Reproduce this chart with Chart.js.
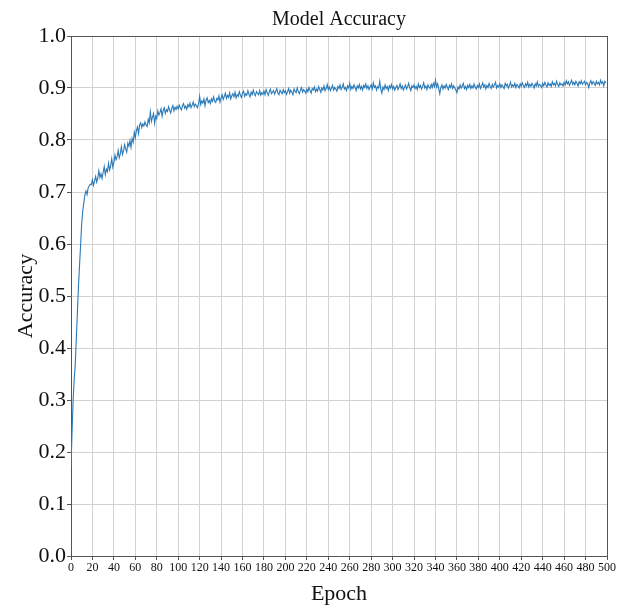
<!DOCTYPE html>
<html>
<head>
<meta charset="utf-8">
<title>Model Accuracy</title>
<script src="https://cdn.jsdelivr.net/npm/chart.js@4.4.1/dist/chart.umd.min.js"></script>
<style>
    html, body { margin: 0; padding: 0; background: #ffffff; }
    #accuracyChart { display: block; }
</style>
</head>
<body>
<canvas id="accuracyChart" width="617" height="611"></canvas>
<script>
// Training accuracy per epoch (epochs 0..499)
const accuracy = [
    // 0-19
    0.170, 0.240, 0.300, 0.340, 0.370, 0.420, 0.470, 0.520, 0.560, 0.600,
    0.640, 0.665, 0.680, 0.695, 0.702, 0.695, 0.708, 0.712, 0.715, 0.714,
    // 20-39
    0.724, 0.713, 0.721, 0.730, 0.719, 0.727, 0.741, 0.728, 0.735, 0.726,
    0.738, 0.749, 0.733, 0.744, 0.739, 0.755, 0.742, 0.750, 0.764, 0.748,
    // 40-59
    0.757, 0.771, 0.762, 0.768, 0.780, 0.766, 0.774, 0.787, 0.772, 0.779,
    0.791, 0.783, 0.777, 0.794, 0.788, 0.799, 0.786, 0.803, 0.796, 0.815,
    // 60-79
    0.804, 0.818, 0.825, 0.812, 0.829, 0.833, 0.824, 0.831, 0.827, 0.835,
    0.829, 0.826, 0.840, 0.833, 0.854, 0.836, 0.844, 0.851, 0.832, 0.846,
    // 80-99
    0.841, 0.856, 0.848, 0.853, 0.860, 0.846, 0.857, 0.862, 0.851, 0.858,
    0.855, 0.864, 0.857, 0.852, 0.861, 0.866, 0.856, 0.863, 0.859, 0.865,
    // 100-119
    0.860, 0.867, 0.862, 0.858, 0.866, 0.870, 0.861, 0.865, 0.859, 0.868,
    0.864, 0.871, 0.862, 0.867, 0.873, 0.864, 0.869, 0.866, 0.862, 0.870,
    // 120-139
    0.884, 0.868, 0.875, 0.871, 0.879, 0.866, 0.877, 0.881, 0.872, 0.876,
    0.870, 0.879, 0.874, 0.883, 0.875, 0.872, 0.880, 0.877, 0.885, 0.873,
    // 140-159
    0.881, 0.887, 0.878, 0.884, 0.890, 0.880, 0.886, 0.882, 0.891, 0.879,
    0.885, 0.889, 0.883, 0.892, 0.881, 0.887, 0.884, 0.893, 0.886, 0.882,
    // 160-179
    0.890, 0.894, 0.884, 0.889, 0.886, 0.895, 0.888, 0.883, 0.892, 0.887,
    0.896, 0.889, 0.885, 0.893, 0.890, 0.887, 0.895, 0.886, 0.891, 0.888,
    // 180-199
    0.894, 0.887, 0.897, 0.891, 0.886, 0.893, 0.898, 0.889, 0.892, 0.895,
    0.888, 0.894, 0.899, 0.890, 0.887, 0.896, 0.892, 0.889, 0.897, 0.891,
    // 200-219
    0.895, 0.888, 0.893, 0.899, 0.890, 0.896, 0.892, 0.887, 0.898, 0.894,
    0.891, 0.900, 0.893, 0.889, 0.896, 0.901, 0.892, 0.897, 0.894, 0.890,
    // 220-239
    0.898, 0.893, 0.901, 0.895, 0.890, 0.899, 0.896, 0.902, 0.893, 0.898,
    0.894, 0.903, 0.897, 0.892, 0.900, 0.896, 0.904, 0.895, 0.899, 0.907,
    // 240-259
    0.897, 0.902, 0.895, 0.900, 0.905, 0.896, 0.901, 0.898, 0.894, 0.903,
    0.899, 0.906, 0.897, 0.902, 0.908, 0.898, 0.901, 0.895, 0.904, 0.900,
    // 260-279
    0.909, 0.897, 0.903, 0.899, 0.906, 0.901, 0.895, 0.904, 0.900, 0.907,
    0.898, 0.903, 0.896, 0.905, 0.901, 0.908, 0.899, 0.904, 0.897, 0.902,
    // 280-299
    0.906, 0.898, 0.910, 0.901, 0.904, 0.896, 0.903, 0.900, 0.913, 0.898,
    0.890, 0.902, 0.897, 0.906, 0.899, 0.903, 0.895, 0.904, 0.900, 0.907,
    // 300-319
    0.898, 0.903, 0.896, 0.901, 0.905, 0.897, 0.902, 0.908, 0.899, 0.904,
    0.896, 0.901, 0.906, 0.898, 0.903, 0.909, 0.900, 0.895, 0.904, 0.901,
    // 320-339
    0.906, 0.899, 0.903, 0.897, 0.908, 0.901, 0.905, 0.898, 0.903, 0.910,
    0.900, 0.904, 0.897, 0.906, 0.902, 0.899, 0.907, 0.901, 0.909, 0.903,
    // 340-359
    0.915, 0.902, 0.908, 0.899, 0.889, 0.901, 0.906, 0.898, 0.904, 0.900,
    0.907, 0.902, 0.897, 0.905, 0.901, 0.908, 0.899, 0.904, 0.900, 0.896,
    // 360-379
    0.891, 0.902, 0.898, 0.906, 0.900, 0.904, 0.909, 0.899, 0.903, 0.897,
    0.905, 0.901, 0.907, 0.899, 0.904, 0.900, 0.908, 0.902, 0.898, 0.905,
    // 380-399
    0.901, 0.908, 0.899, 0.904, 0.910, 0.902, 0.906, 0.898, 0.905, 0.901,
    0.909, 0.903, 0.899, 0.907, 0.902, 0.906, 0.911, 0.900, 0.905, 0.902,
    // 400-419
    0.908, 0.901, 0.906, 0.903, 0.899, 0.909, 0.904, 0.907, 0.900, 0.905,
    0.911, 0.902, 0.906, 0.903, 0.909, 0.901, 0.907, 0.904, 0.900, 0.908,
    // 420-439
    0.903, 0.910, 0.905, 0.901, 0.908, 0.904, 0.911, 0.902, 0.907, 0.903,
    0.909, 0.905, 0.900, 0.908, 0.904, 0.912, 0.903, 0.907, 0.905, 0.901,
    // 440-459
    0.909, 0.904, 0.911, 0.906, 0.902, 0.910, 0.905, 0.908, 0.903, 0.912,
    0.906, 0.909, 0.904, 0.913, 0.907, 0.903, 0.910, 0.906, 0.908, 0.904,
    // 460-479
    0.911, 0.906, 0.914, 0.908, 0.912, 0.905, 0.910, 0.915, 0.907, 0.911,
    0.906, 0.913, 0.909, 0.904, 0.912, 0.908, 0.914, 0.907, 0.910, 0.913,
    // 480-499
    0.906, 0.911, 0.908, 0.901, 0.910, 0.914, 0.907, 0.912, 0.909, 0.905,
    0.913, 0.908, 0.911, 0.906, 0.915, 0.909, 0.912, 0.904, 0.913, 0.910
];

// Axis tick positions
const xTicks = [0, 20, 40, 60, 80, 100, 120, 140, 160, 180, 200, 220, 240,
                260, 280, 300, 320, 340, 360, 380, 400, 420, 440, 460, 480, 500];
const yTicks = [0.0, 0.1, 0.2, 0.3, 0.4, 0.5, 0.6, 0.7, 0.8, 0.9, 1.0];

// Colours
const lineColor = '#2a7ab8';
const gridColor = '#d2d2d2';
const axisColor = '#555555';
const textColor = '#111111';
const serif = "'Liberation Serif', 'Times New Roman', serif";

const points = accuracy.map((v, i) => ({ x: i, y: v }));

const ctx = document.getElementById('accuracyChart');
new Chart(ctx, {
    type: 'line',
    data: {
        datasets: [{
            label: 'Accuracy',
            data: points,
            borderColor: lineColor,
            borderWidth: 1.1,
            pointRadius: 0,
            tension: 0,
            fill: false
        }]
    },
    options: {
        responsive: false,
        animation: false,
        layout: {
            padding: { left: 0, right: 10, top: 0, bottom: 0 }
        },
        plugins: {
            legend: { display: false },
            tooltip: { enabled: false },
            title: {
                display: true,
                text: 'Model Accuracy',
                fullSize: false,
                color: textColor,
                font: { family: serif, size: 20, weight: 'normal' },
                padding: { top: 8, bottom: 4 }
            }
        },
        scales: {
            x: {
                type: 'linear',
                min: 0,
                max: 500,
                afterBuildTicks: function(scale) {
                    scale.ticks = xTicks.map(v => ({ value: v }));
                },
                afterFit: function(scale) {
                    scale.height = 55;
                },
                ticks: {
                    autoSkip: false,
                    maxRotation: 0,
                    padding: 1,
                    color: textColor,
                    font: { family: serif, size: 12 },
                    callback: function(value) { return value; }
                },
                grid: {
                    color: function(c) {
                        return c.tick && c.tick.value === 500 ? axisColor : gridColor;
                    },
                    lineWidth: 1,
                    tickLength: 4,
                    tickColor: axisColor
                },
                border: { display: true, color: axisColor, width: 1 },
                title: {
                    display: true,
                    text: 'Epoch',
                    color: textColor,
                    font: { family: serif, size: 22 },
                    padding: { top: 4, bottom: 4 }
                }
            },
            y: {
                type: 'linear',
                min: 0,
                max: 1,
                afterBuildTicks: function(scale) {
                    scale.ticks = yTicks.map(v => ({ value: v }));
                },
                afterFit: function(scale) {
                    scale.width = 71;
                },
                ticks: {
                    padding: 1,
                    color: textColor,
                    font: { family: serif, size: 22 },
                    callback: function(value) { return Number(value).toFixed(1); }
                },
                grid: {
                    color: function(c) {
                        return c.tick && c.tick.value === 1 ? axisColor : gridColor;
                    },
                    lineWidth: 1,
                    tickLength: 4,
                    tickColor: axisColor
                },
                border: { display: true, color: axisColor, width: 1 },
                title: {
                    display: true,
                    text: 'Accuracy',
                    color: textColor,
                    font: { family: serif, size: 22 },
                    padding: { top: 13, bottom: 0 }
                }
            }
        }
    }
});
</script>
</body>
</html>
